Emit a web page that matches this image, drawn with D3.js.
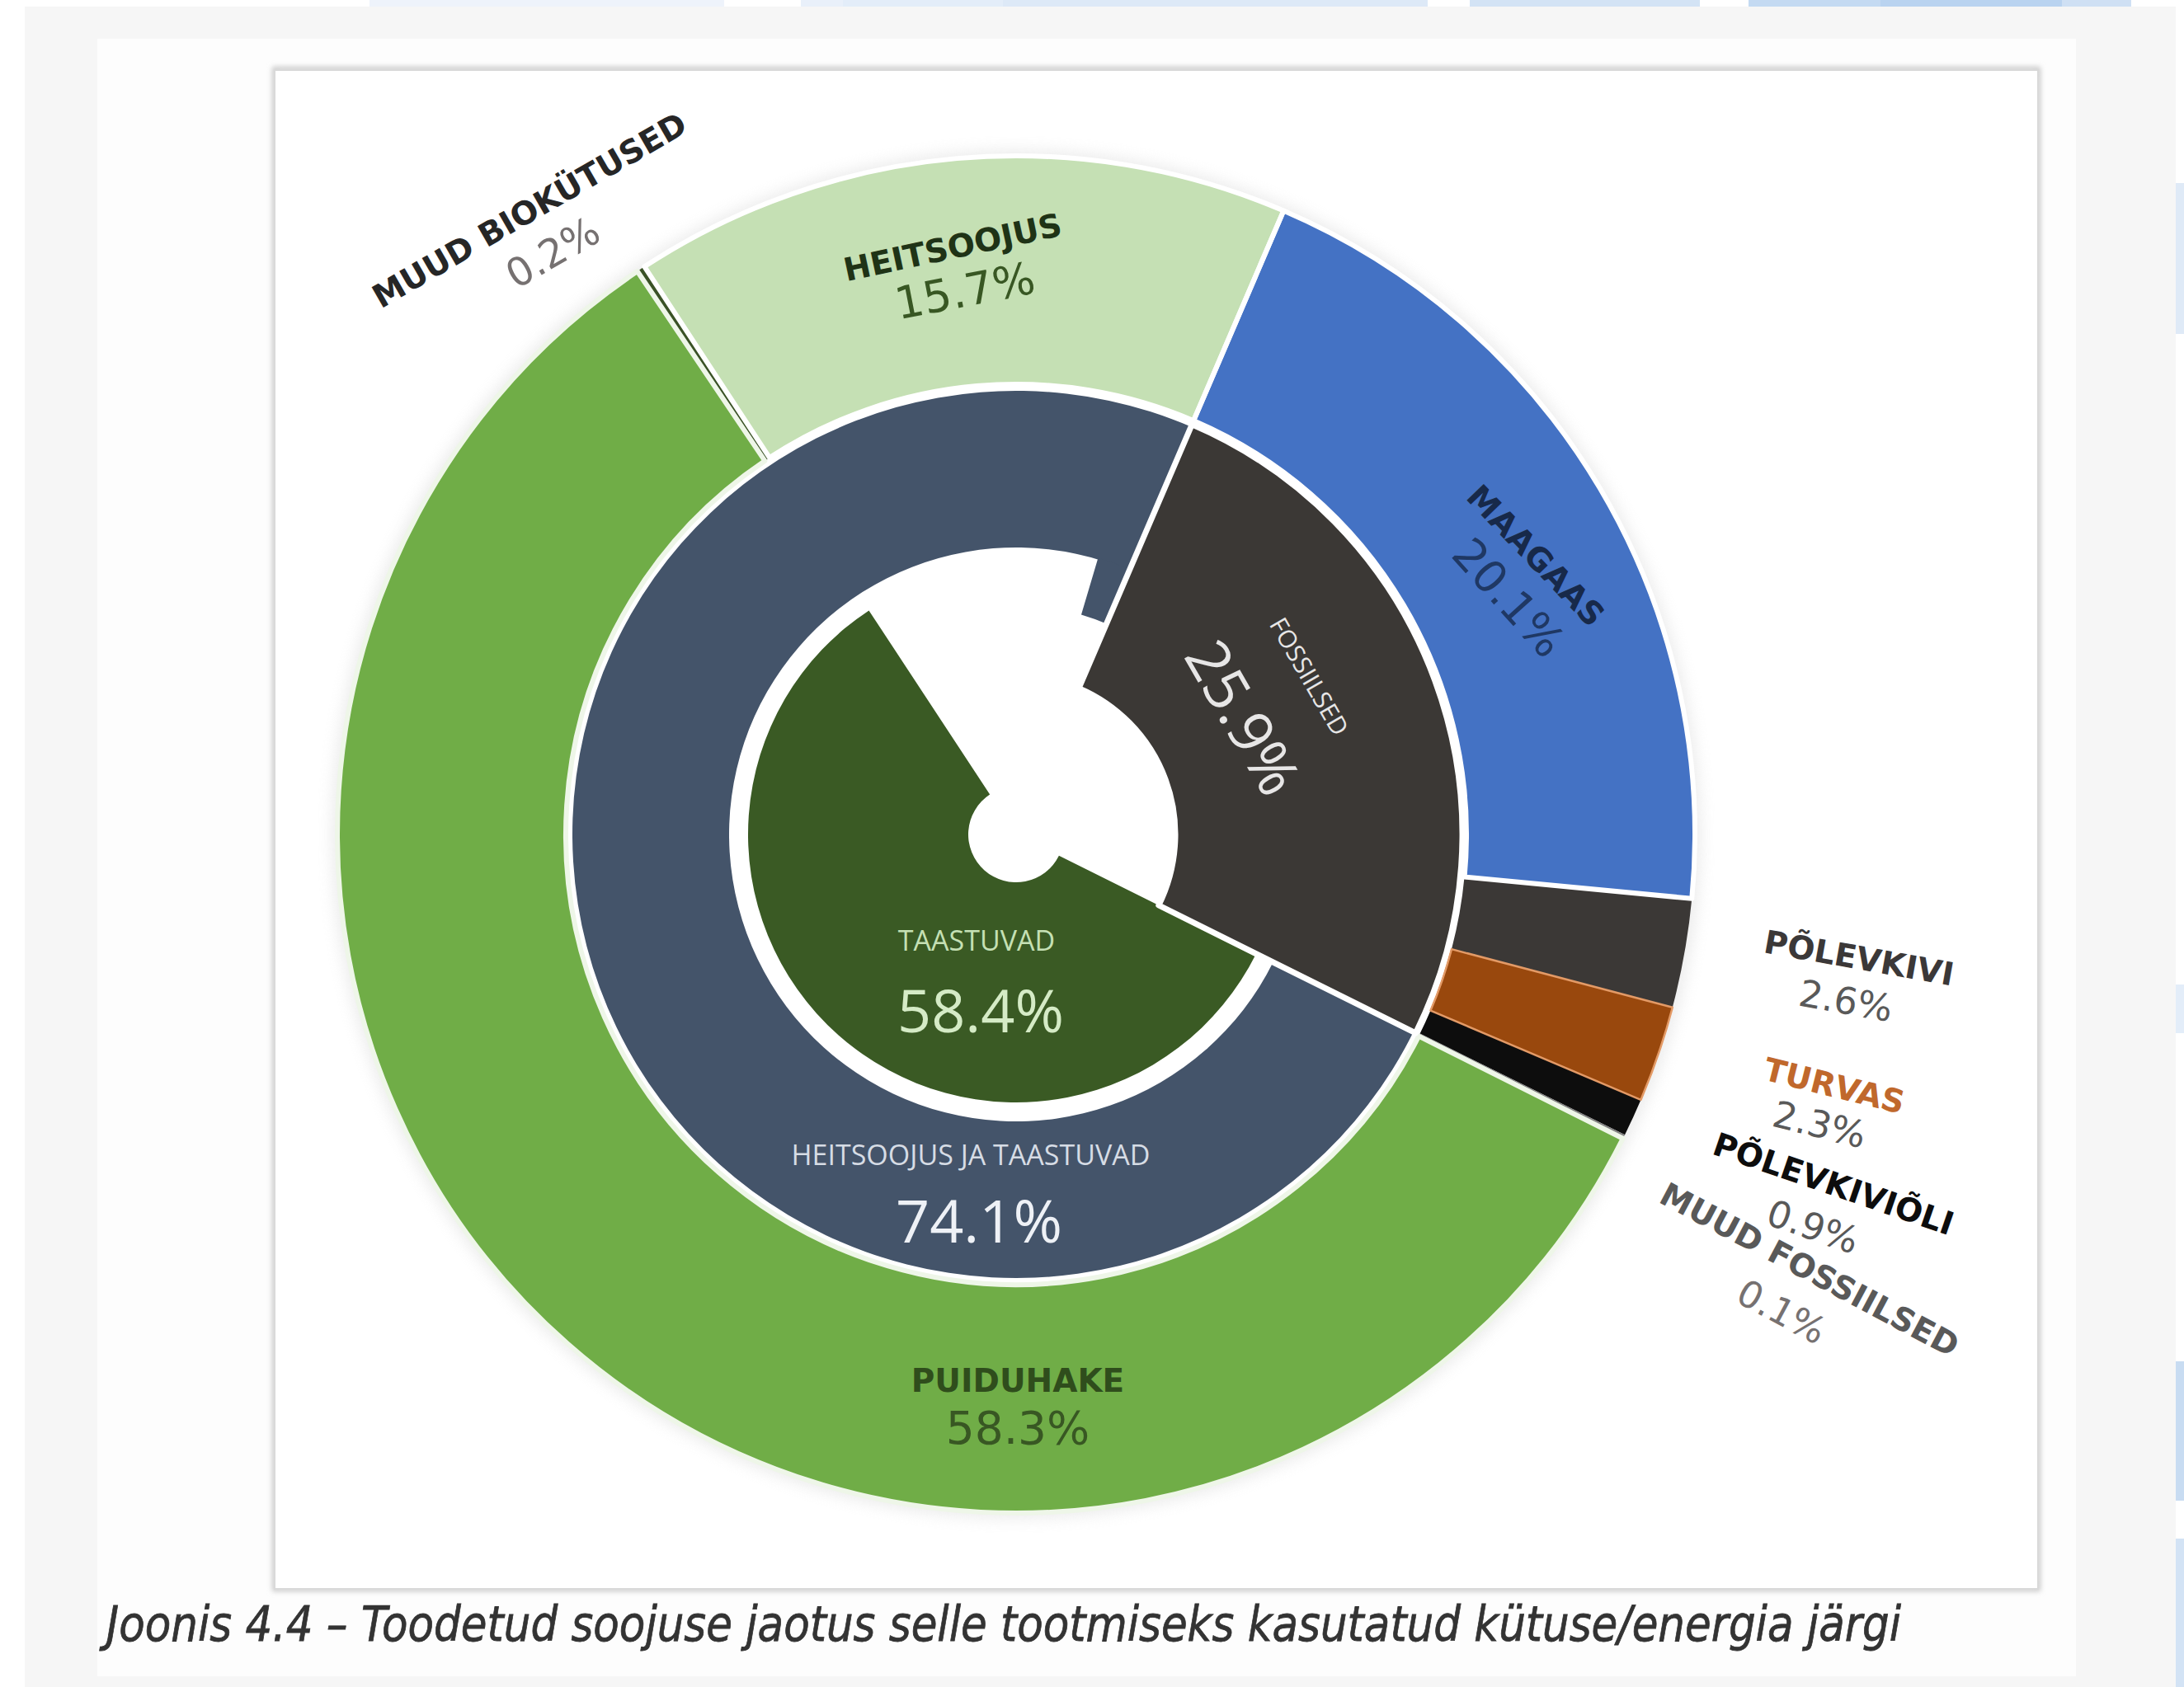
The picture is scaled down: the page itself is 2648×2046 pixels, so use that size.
<!DOCTYPE html>
<html>
<head>
<meta charset="utf-8">
<script src="https://cdn.jsdelivr.net/npm/d3@7"></script>
<style>
  html, body { margin: 0; padding: 0; background: #ffffff; }
  svg { display: block; }
</style>
</head>
<body>
<svg id="chart" width="2648" height="2046"></svg>
<script>
// ---- Data -------------------------------------------------------------
// Outer ring: heat produced, by fuel / energy source (%), clockwise
const sourceNames  = ["HEITSOOJUS", "MAAGAAS", "PÕLEVKIVI", "TURVAS", "PÕLEVKIVIÕLI", "MUUD FOSSIILSED", "PUIDUHAKE", "MUUD BIOKÜTUSED"];
const sourceValues = [15.7, 20.1, 2.6, 2.3, 0.9, 0.1, 58.3, 0.2];

// Middle ring: fossil fuels vs. waste heat + renewables (%)
const groupNames  = ["FOSSIILSED", "HEITSOOJUS JA TAASTUVAD"];
const groupValues = [25.9, 74.1];

// Inner ring: renewables (%)
const renewNames  = ["TAASTUVAD"];
const renewValues = [58.4];

const captionText = "Joonis 4.4 – Toodetud soojuse jaotus selle tootmiseks kasutatud kütuse/energia järgi";

// ---- Styling ----------------------------------------------------------
const sourceColors = {
  "HEITSOOJUS": "#c5e0b4",
  "MAAGAAS": "#4472c4",
  "PÕLEVKIVI": "#3b3836",
  "TURVAS": "#99480d",
  "PÕLEVKIVIÕLI": "#0d0d0d",
  "MUUD FOSSIILSED": "#7f7f7f",
  "PUIDUHAKE": "#70ad47",
  "MUUD BIOKÜTUSED": "#3a5226"
};
const groupColors = { "FOSSIILSED": "#3b3835", "HEITSOOJUS JA TAASTUVAD": "#44546a" };
const renewColor = "#3a5a24";

// label placement relative to chart centre: [dx, dy, rotation]
const labelLayout = {
  "MUUD BIOKÜTUSED": { name: [-590, -757, -30], value: [-562, -706, -30], nameFill: "#262626", valueFill: "#767171", valueSize: 48 },
  "HEITSOOJUS":      { name: [-77, -712, -12],  value: [-62, -659, -11],  nameFill: "#1f3316", valueFill: "#385723", valueSize: 54 },
  "MAAGAAS":         { name: [630, -338, 46],   value: [597, -287, 48],   nameFill: "#17294a", valueFill: "#1f3864", valueSize: 54 },
  "PÕLEVKIVI":       { name: [1022, 150, 10],   value: [1006, 202, 10],   nameFill: "#3b3838", valueFill: "#595959", valueSize: 45 },
  "TURVAS":          { name: [992, 305, 14],    value: [974, 352, 14],    nameFill: "#c0682c", valueFill: "#595959", valueSize: 45 },
  "PÕLEVKIVIÕLI":    { name: [991, 424, 19],    value: [966, 476, 19],    nameFill: "#0d0d0d", valueFill: "#595959", valueSize: 45 },
  "MUUD FOSSIILSED": { name: [962, 528, 28],    value: [928, 579, 28],    nameFill: "#595959", valueFill: "#767171", valueSize: 45 },
  "PUIDUHAKE":       { name: [2, 662, 0],       value: [2, 720, 0],       nameFill: "#2f4d1c", valueFill: "#385723", valueSize: 55 }
};
const innerLayout = {
  "FOSSIILSED":              { name: [356, -192, 60], value: [277, -143, 60], nameSize: 30, nameFill: "#e7e6e6", valueFill: "#e7e6e6" },
  "HEITSOOJUS JA TAASTUVAD": { name: [-55, 388, 0],   value: [-45, 467, 0],   nameSize: 34, nameFill: "#d6dce5", valueFill: "#eef1f6" },
  "TAASTUVAD":               { name: [-48, 128, 0],   value: [-43, 212, 0],   nameSize: 34, nameFill: "#c5e0b4", valueFill: "#d5ebc6" }
};

// ---- Setup ------------------------------------------------------------
const W = 2648, H = 2046;
const cx = 1232, cy = 1012;
const deg = d => d * Math.PI / 180;
const fmt = v => d3.format(".1f")(v) + "%";

const svg = d3.select("#chart");
const defs = svg.append("defs");
defs.append("filter").attr("id", "soft").attr("x", "-10%").attr("y", "-10%").attr("width", "120%").attr("height", "120%")
  .append("feGaussianBlur").attr("stdDeviation", 9);
defs.append("filter").attr("id", "boxShadow").attr("x", "-5%").attr("y", "-5%").attr("width", "110%").attr("height", "110%")
  .append("feGaussianBlur").attr("stdDeviation", 3);

// ---- Page background --------------------------------------------------
svg.append("rect").attr("width", W).attr("height", H).attr("fill", "#ffffff");

// decorative light-blue band along the top and right page edges
const topBand = [
  [448, 878, "#eef3fb"], [971, 1022, "#e9f0fa"], [1022, 1216, "#e3edf9"], [1216, 1731, "#dde9f7"],
  [1782, 2061, "#d3e3f5"], [2120, 2280, "#c4daf2"], [2280, 2500, "#b9d3f0"], [2500, 2584, "#cfe0f4"]
];
svg.append("g").selectAll("rect").data(topBand).join("rect")
  .attr("x", d => d[0]).attr("y", 0).attr("width", d => d[1] - d[0]).attr("height", 10).attr("fill", d => d[2]);
const rightBand = [[222, 405, "#dfeaf7"], [1194, 1253, "#e3edf9"], [1651, 1820, "#c8dcf2"], [1866, 2046, "#d3e3f5"]];
svg.append("g").selectAll("rect").data(rightBand).join("rect")
  .attr("x", 2638).attr("y", d => d[0]).attr("width", 10).attr("height", d => d[1] - d[0]).attr("fill", d => d[2]);

// grey panel, white card, framed chart area
svg.append("rect").attr("x", 30).attr("y", 8).attr("width", 2608).attr("height", 2038).attr("fill", "#f6f6f6");
svg.append("rect").attr("x", 118).attr("y", 47).attr("width", 2399).attr("height", 1986).attr("fill", "#fdfdfd");
svg.append("rect").attr("x", 333).attr("y", 84).attr("width", 2138).attr("height", 1843)
  .attr("fill", "none").attr("stroke", "#c8c8c8").attr("stroke-width", 6).attr("filter", "url(#boxShadow)");
svg.append("rect").attr("x", 333).attr("y", 85).attr("width", 2138).attr("height", 1842)
  .attr("fill", "#ffffff").attr("stroke", "#d9d9d9").attr("stroke-width", 2);

// ---- Chart ------------------------------------------------------------
const g = svg.append("g").attr("transform", `translate(${cx},${cy})`);

const sources = sourceNames.map((n, i) => ({ name: n, value: sourceValues[i] }));
const groups = groupNames.map((n, i) => ({ name: n, value: groupValues[i] }));

const outerStart = deg(-33.2);
const outerPie = d3.pie().sort(null).value(d => d.value)
  .startAngle(outerStart).endAngle(outerStart + 2 * Math.PI);
const outerSlices = outerPie(sources);

// fossil group begins where waste heat ends
const groupStart = outerSlices[0].endAngle;
const groupPie = d3.pie().sort(null).value(d => d.value)
  .startAngle(groupStart).endAngle(groupStart + 2 * Math.PI);
const groupSlices = groupPie(groups);

// renewables begin where the fossil group ends
const renewStart = groupSlices[0].endAngle;
const renewPie = d3.pie().sort(null).value(d => d.value)
  .startAngle(renewStart).endAngle(renewStart + 2 * Math.PI * d3.sum(renewValues) / 100);
const renewSlices = renewPie(renewNames.map((n, i) => ({ name: n, value: renewValues[i] })));

const outerArc  = d3.arc().innerRadius(546).outerRadius(823);
const navyArc   = d3.arc().innerRadius(348).outerRadius(538);
const fossilArc = d3.arc().innerRadius(193).outerRadius(541);
const renewArc  = d3.arc().innerRadius(58).outerRadius(325);

// soft halo round the outer ring
g.append("circle").attr("r", 830).attr("fill", "#d6d6d6").attr("opacity", 0.45).attr("filter", "url(#soft)");
g.append("circle").attr("r", 822).attr("fill", "#ffffff");

// outer ring fills
g.append("g").selectAll("path").data(outerSlices).join("path")
  .attr("d", outerArc).attr("fill", d => sourceColors[d.data.name]);

// outer ring separators (second pass so that thin slices stay visible)
const strokeFor = name => name === "TURVAS" ? "#e39a66" : (name === "PUIDUHAKE" ? "#eef6e8" : "#ffffff");
const strokeW = name => name === "TURVAS" ? 2.5 : (["PÕLEVKIVI", "PÕLEVKIVIÕLI", "MUUD FOSSIILSED", "MUUD BIOKÜTUSED"].includes(name) ? 0 : 6);
g.append("g").selectAll("path").data(outerSlices).join("path")
  .attr("d", outerArc).attr("fill", "none")
  .attr("stroke", d => strokeFor(d.data.name)).attr("stroke-width", d => strokeW(d.data.name))
  .attr("stroke-linejoin", "round");

// middle ring: waste heat + renewables
const navy = groupSlices[1];
g.append("path").datum(navy).attr("d", navyArc).attr("fill", groupColors[navy.data.name]);
// small inward tab at the closing end of the navy ring
g.append("path")
  .datum({ startAngle: navy.endAngle - deg(6.7), endAngle: navy.endAngle })
  .attr("d", d3.arc().innerRadius(278).outerRadius(350))
  .attr("fill", groupColors[navy.data.name]);

// inner ring: renewables
g.append("g").selectAll("path").data(renewSlices).join("path")
  .attr("d", renewArc).attr("fill", renewColor);

// fossil group wedge, spanning middle and inner rings
const fossil = groupSlices[0];
g.append("path").datum(fossil).attr("d", fossilArc)
  .attr("fill", groupColors[fossil.data.name])
  .attr("stroke", "#ffffff").attr("stroke-width", 7).attr("stroke-linejoin", "round");

// ---- Labels -----------------------------------------------------------
function place(sel, pos) {
  return sel.attr("transform", `translate(${pos[0]},${pos[1]}) rotate(${pos[2]})`)
    .attr("text-anchor", "middle").attr("dominant-baseline", "central");
}

const outerLabels = g.append("g");
outerSlices.forEach(s => {
  const lay = labelLayout[s.data.name];
  if (!lay) return;
  place(outerLabels.append("text"), lay.name)
    .attr("font-family", "'DejaVu Sans', Verdana, sans-serif").attr("font-weight", "bold")
    .attr("font-size", 39).attr("fill", lay.nameFill).text(s.data.name);
  place(outerLabels.append("text"), lay.value)
    .attr("font-family", "'DejaVu Sans', Verdana, sans-serif")
    .attr("font-size", lay.valueSize).attr("fill", lay.valueFill).text(fmt(s.data.value));
});

const innerLabels = g.append("g");
const innerItems = groupSlices.map(s => s.data).concat(renewSlices.map(s => s.data));
innerItems.forEach(d => {
  const lay = innerLayout[d.name];
  place(innerLabels.append("text"), lay.name)
    .attr("font-family", "'Open Sans', 'Noto Sans', sans-serif")
    .attr("font-size", lay.nameSize).attr("fill", lay.nameFill).text(d.name);
  place(innerLabels.append("text"), lay.value)
    .attr("font-family", "'Open Sans', 'Noto Sans', sans-serif")
    .attr("font-size", 72).attr("fill", lay.valueFill).text(fmt(d.value));
});

// ---- Caption ----------------------------------------------------------
svg.append("text")
  .attr("x", 129).attr("y", 1990)
  .attr("font-family", "'DejaVu Sans', Verdana, sans-serif")
  .attr("font-style", "italic").attr("font-size", 58).attr("fill", "#333333")
  .attr("stroke", "#333333").attr("stroke-width", 0.8)
  .attr("textLength", 2176).attr("lengthAdjust", "spacingAndGlyphs")
  .text(captionText);
</script>
</body>
</html>
